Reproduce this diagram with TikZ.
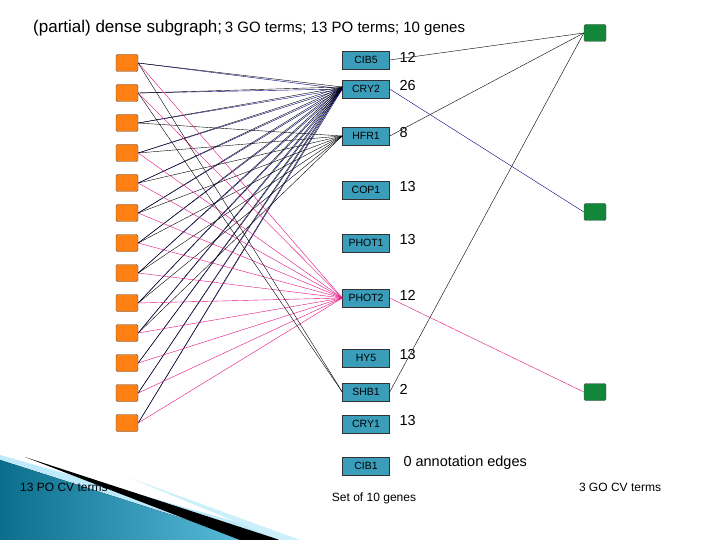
\documentclass[tikz,border=0pt]{standalone}
\usepackage{fontspec}
\setmainfont{Liberation Sans}
\definecolor{genec}{HTML}{3A9EBB}
\definecolor{poc}{HTML}{FF8012}
\definecolor{goc}{HTML}{12873A}
\definecolor{decoa}{HTML}{0A6E8C}
\definecolor{decob}{HTML}{5BBEDD}
\begin{document}
\begin{tikzpicture}[x=1pt,y=-1pt,
 po/.style={draw=black!70,fill=poc,rounded corners=2pt,minimum width=22pt,minimum height=17pt,inner sep=0pt},
 gene/.style={draw=black!80,fill=genec,minimum width=47pt,minimum height=18pt,inner sep=0pt,font=\fontsize{10.5}{10}\selectfont},
 go/.style={draw=black!70,fill=goc,rounded corners=1.5pt,minimum width=22pt,minimum height=17pt,inner sep=0pt},
 num/.style={anchor=west,font=\fontsize{14.5}{14}\selectfont},
 eb/.style={draw=blue!50!black,line width=0.4pt},
 ek/.style={draw=black,line width=0.4pt},
 em/.style={draw=magenta!80!purple,line width=0.4pt},
 lbl/.style={font=\fontsize{12}{12}\selectfont,inner sep=0pt}]
\useasboundingbox (0,0) rectangle (720,540);
\fill[white] (0,0) rectangle (720,540);
% decoration
\fill[cyan!25!white] (0,455) -- (300,540) -- (0,540) -- cycle;
\fill[left color=decoa,right color=decob] (0,460) -- (250,540) -- (0,540) -- cycle;
\fill[black] (25,457) -- (280,540) -- (240,540) -- cycle;
\fill[cyan!20!white] (130,478) -- (300,540) -- (280,540) -- cycle;
\node[anchor=west,inner sep=0pt] (title) at (33,28) {{\fontsize{17}{17}\selectfont (partial) dense subgraph;} {\fontsize{15}{15}\selectfont 3 GO terms; 13 PO terms; 10 genes}};
\foreach \i in {1,...,13} \node[po] (p\i) at (127,{33+30*\i}) {};
\foreach \n/\y/\v in {CIB5/60/12,CRY2/89/26,HFR1/136/8,COP1/190/13,PHOT1/243/13,PHOT2/298/12,HY5/358/13,SHB1/392/2,CRY1/424/13}
 {\node[gene] (\n) at (366,\y) {\n}; \node[num] (n\n) at (396,\y-3) {\v};}
\node[gene] (CIB1) at (366,466) {CIB1};
\node[num] (nCIB1) at (400,463) {0 annotation edges};
\node[go] (g1) at (595,33) {};
\node[go] (g2) at (595,212) {};
\node[go] (g3) at (595,392) {};
\node[lbl,anchor=west] (lpo) at (20,487) {13 PO CV terms};
\node[lbl] (lgenes) at (374,498) {Set of 10 genes};
\node[lbl] (lgo) at (620,487) {3 GO CV terms};
\foreach \i in {1,...,13} {
 \draw[eb] (p\i.east) -- (CRY2.west);
 \draw[ek] (p\i.east) -- ([yshift=2pt]CRY2.west);}
\foreach \i in {3,...,10} \draw[ek] (p\i.east) -- (HFR1.west);
\foreach \i in {1,2,4,5,6,7,8,9,10,11,12,13} \draw[em] (p\i.east) -- (PHOT2.west);
\foreach \i in {1,2} \draw[ek] (p\i.east) -- (SHB1.west);
\draw[ek] (CIB5.east) -- (g1.west);
\draw[ek] (HFR1.east) -- (g1.west);
\draw[ek] (SHB1.east) -- (g1.west);
\draw[eb] (CRY2.east) -- (g2.west);
\draw[em] (PHOT2.east) -- (g3.west);
\end{tikzpicture}
\end{document}
